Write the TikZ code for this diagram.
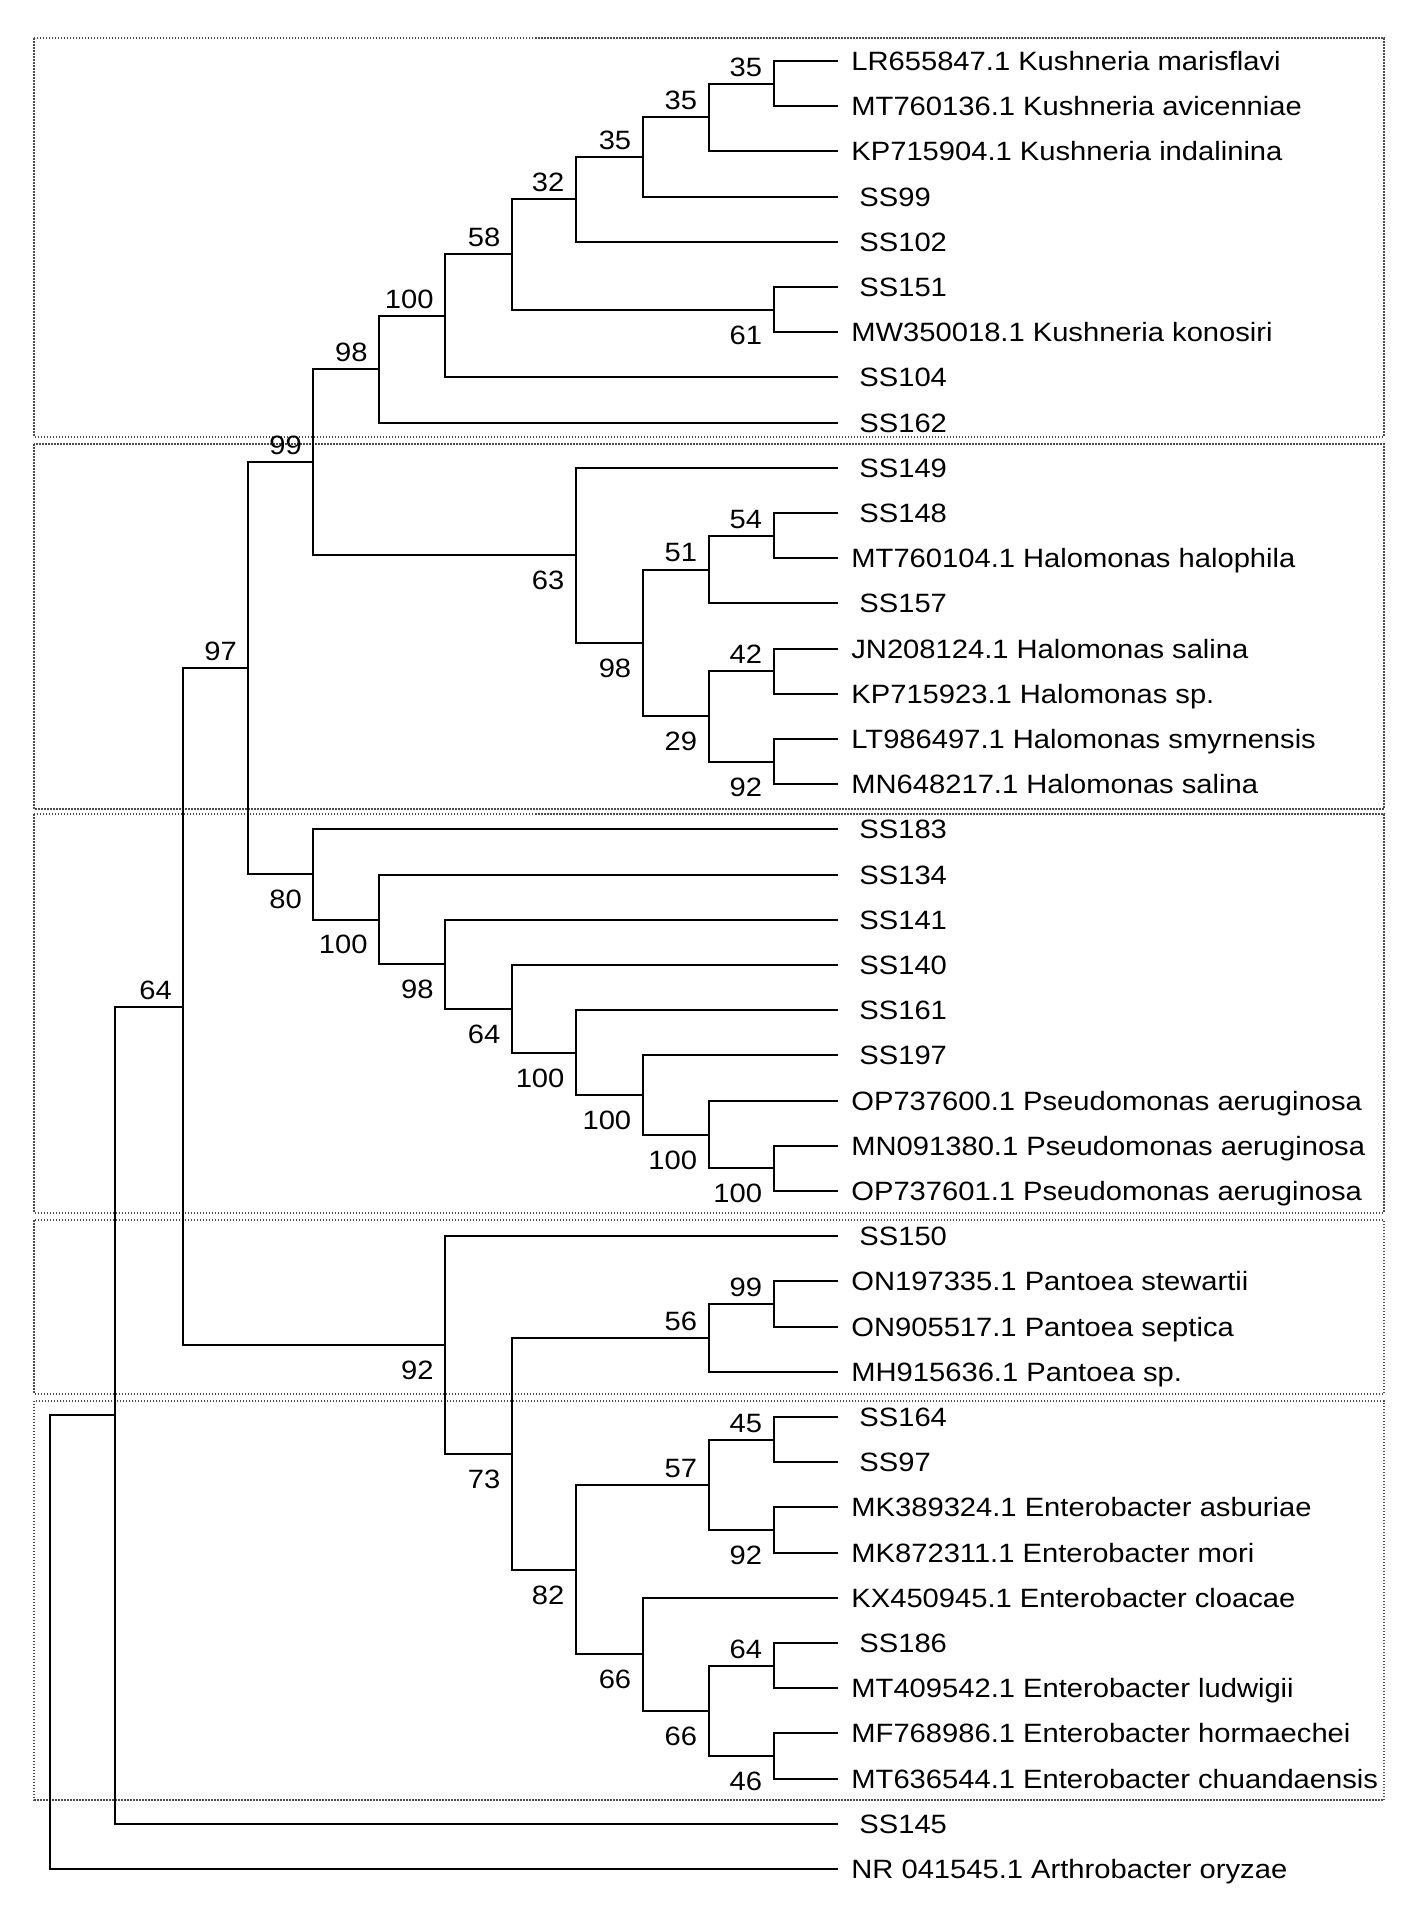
\documentclass[tikz,border=0pt]{standalone}
\usepackage{fontspec}
\setmainfont[FakeStretch=1.1]{Liberation Sans}
\usetikzlibrary{calc}
\newcommand\clade[3]{\draw[br] (#1) |- (#2) (#1) |- (#3);}
\newcommand\bsup[2]{\node[boot] (#1lab) at ($(#1)+(-11,-17)$) {#2};}
\newcommand\bsdn[2]{\node[boot] (#1lab) at ($(#1)+(-11,25)$) {#2};}
\begin{document}
\begin{tikzpicture}[x=0.5pt,y=-0.5pt,
  br/.style={line width=1pt, line join=miter, black},
  boxline/.style={draw=black!70, line width=0.9pt, dash pattern=on 0.75pt off 0.75pt},
  txt/.style={font=\fontsize{13.25}{14}\selectfont, inner sep=0pt, text height=9.49pt, text depth=0pt},
  boot/.style={txt, anchor=east},
  leaf/.style={txt, anchor=west}]
\useasboundingbox (0,0) rectangle (1417,1914);
% clade boxes
\draw[boxline] (34.3,38.3) rectangle (1384,436.7);
\draw[boxline] (34.3,444.3) rectangle (1384,809.3);
\draw[boxline] (34.3,814.3) rectangle (1384,1212.7);
\draw[boxline] (34.3,1220) rectangle (1384,1393.8);
\draw[boxline] (34.3,1400.7) rectangle (1384,1800);
% leaf tips
\foreach \i in {0,...,40} {\coordinate (L\i) at (837.5,{61+45.2*\i});}
% internal nodes
\coordinate (Na) at (773.5,83.6);
\coordinate (Nb) at (708.5,117.5);
\coordinate (Nc) at (642.6,157.05);
\coordinate (Nd) at (575.8,199.4);
\coordinate (Ne) at (773.5,309.6);
\coordinate (Nf) at (511.7,254.5);
\coordinate (Ng) at (445,316);
\coordinate (Nh) at (379,369.3);
\coordinate (Ni) at (773.5,535.6);
\coordinate (Nj) at (708.5,569.5);
\coordinate (Nk) at (773.5,671.2);
\coordinate (Nl) at (773.5,761.6);
\coordinate (Nm) at (708.5,716.4);
\coordinate (Nn) at (642.6,643);
\coordinate (No) at (575.8,555.4);
\coordinate (Np) at (313.2,462.4);
\coordinate (Nq) at (773.5,1168.4);
\coordinate (Nr) at (708.5,1134.5);
\coordinate (Ns) at (642.6,1095);
\coordinate (Nt) at (575.8,1052.6);
\coordinate (Nu) at (511.7,1008.8);
\coordinate (Nv) at (445,964.3);
\coordinate (Nw) at (379,919.5);
\coordinate (Nx) at (313.2,874.4);
\coordinate (Ny) at (248.2,668.4);
\coordinate (Nz) at (773.5,1304);
\coordinate (Naa) at (708.5,1337.9);
\coordinate (Nbb) at (773.5,1439.6);
\coordinate (Ncc) at (773.5,1530);
\coordinate (Ndd) at (708.5,1484.8);
\coordinate (Nee) at (773.5,1665.6);
\coordinate (Nff) at (773.5,1756);
\coordinate (Ngg) at (708.5,1710.8);
\coordinate (Nhh) at (642.6,1654.3);
\coordinate (Nii) at (575.8,1569.6);
\coordinate (Njj) at (511.7,1453.7);
\coordinate (Nkk) at (445,1345);
\coordinate (Nll) at (183.2,1006.7);
\coordinate (Nmm) at (114.6,1415.3);
\coordinate (Nroot) at (49.6,1642);
% branches
\clade{Na}{L0}{L1}
\clade{Nb}{Na}{L2}
\clade{Nc}{Nb}{L3}
\clade{Nd}{Nc}{L4}
\clade{Ne}{L5}{L6}
\clade{Nf}{Nd}{Ne}
\clade{Ng}{Nf}{L7}
\clade{Nh}{Ng}{L8}
\clade{Ni}{L10}{L11}
\clade{Nj}{Ni}{L12}
\clade{Nk}{L13}{L14}
\clade{Nl}{L15}{L16}
\clade{Nm}{Nk}{Nl}
\clade{Nn}{Nj}{Nm}
\clade{No}{L9}{Nn}
\clade{Np}{Nh}{No}
\clade{Nq}{L24}{L25}
\clade{Nr}{L23}{Nq}
\clade{Ns}{L22}{Nr}
\clade{Nt}{L21}{Ns}
\clade{Nu}{L20}{Nt}
\clade{Nv}{L19}{Nu}
\clade{Nw}{L18}{Nv}
\clade{Nx}{L17}{Nw}
\clade{Ny}{Np}{Nx}
\clade{Nz}{L27}{L28}
\clade{Naa}{Nz}{L29}
\clade{Nbb}{L30}{L31}
\clade{Ncc}{L32}{L33}
\clade{Ndd}{Nbb}{Ncc}
\clade{Nee}{L35}{L36}
\clade{Nff}{L37}{L38}
\clade{Ngg}{Nee}{Nff}
\clade{Nhh}{L34}{Ngg}
\clade{Nii}{Ndd}{Nhh}
\clade{Njj}{Naa}{Nii}
\clade{Nkk}{L26}{Njj}
\clade{Nll}{Ny}{Nkk}
\clade{Nmm}{Nll}{L39}
\clade{Nroot}{Nmm}{L40}
% bootstrap values
\bsup{Na}{35} \bsup{Nb}{35} \bsup{Nc}{35} \bsup{Nd}{32}
\bsdn{Ne}{61} \bsup{Nf}{58} \bsup{Ng}{100} \bsup{Nh}{98}
\bsup{Ni}{54} \bsup{Nj}{51} \bsup{Nk}{42} \bsdn{Nl}{92}
\bsdn{Nm}{29} \bsdn{Nn}{98} \bsdn{No}{63} \bsup{Np}{99}
\bsdn{Nq}{100} \bsdn{Nr}{100} \bsdn{Ns}{100} \bsdn{Nt}{100}
\bsdn{Nu}{64} \bsdn{Nv}{98} \bsdn{Nw}{100} \bsdn{Nx}{80}
\bsup{Ny}{97} \bsup{Nz}{99} \bsup{Naa}{56}
\bsup{Nbb}{45} \bsdn{Ncc}{92} \bsup{Ndd}{57} \bsup{Nee}{64}
\bsdn{Nff}{46} \bsdn{Ngg}{66} \bsdn{Nhh}{66} \bsdn{Nii}{82}
\bsdn{Njj}{73} \bsdn{Nkk}{92} \bsup{Nll}{64}
% leaf labels
\foreach \i/\t in {0/LR655847.1 Kushneria marisflavi, 1/MT760136.1 Kushneria avicenniae,
  2/KP715904.1 Kushneria indalinina, 6/MW350018.1 Kushneria konosiri,
  11/MT760104.1 Halomonas halophila, 13/JN208124.1 Halomonas salina,
  14/KP715923.1 Halomonas sp., 15/LT986497.1 Halomonas smyrnensis,
  16/MN648217.1 Halomonas salina, 23/OP737600.1 Pseudomonas aeruginosa,
  24/MN091380.1 Pseudomonas aeruginosa, 25/OP737601.1 Pseudomonas aeruginosa,
  27/ON197335.1 Pantoea stewartii, 28/ON905517.1 Pantoea septica,
  29/MH915636.1 Pantoea sp., 32/MK389324.1 Enterobacter asburiae,
  33/MK872311.1 Enterobacter mori, 34/KX450945.1 Enterobacter cloacae,
  36/MT409542.1 Enterobacter ludwigii, 37/MF768986.1 Enterobacter hormaechei,
  38/MT636544.1 Enterobacter chuandaensis, 40/NR 041545.1 Arthrobacter oryzae}
  {\node[leaf] (t\i) at ($(L\i)+(13.5,0)$) {\t};}
\foreach \i/\t in {3/SS99, 4/SS102, 5/SS151, 7/SS104, 8/SS162, 9/SS149, 10/SS148,
  12/SS157, 17/SS183, 18/SS134, 19/SS141, 20/SS140, 21/SS161, 22/SS197,
  26/SS150, 30/SS164, 31/SS97, 35/SS186, 39/SS145}
  {\node[leaf] (t\i) at ($(L\i)+(21.5,0)$) {\t};}
\end{tikzpicture}
\end{document}
